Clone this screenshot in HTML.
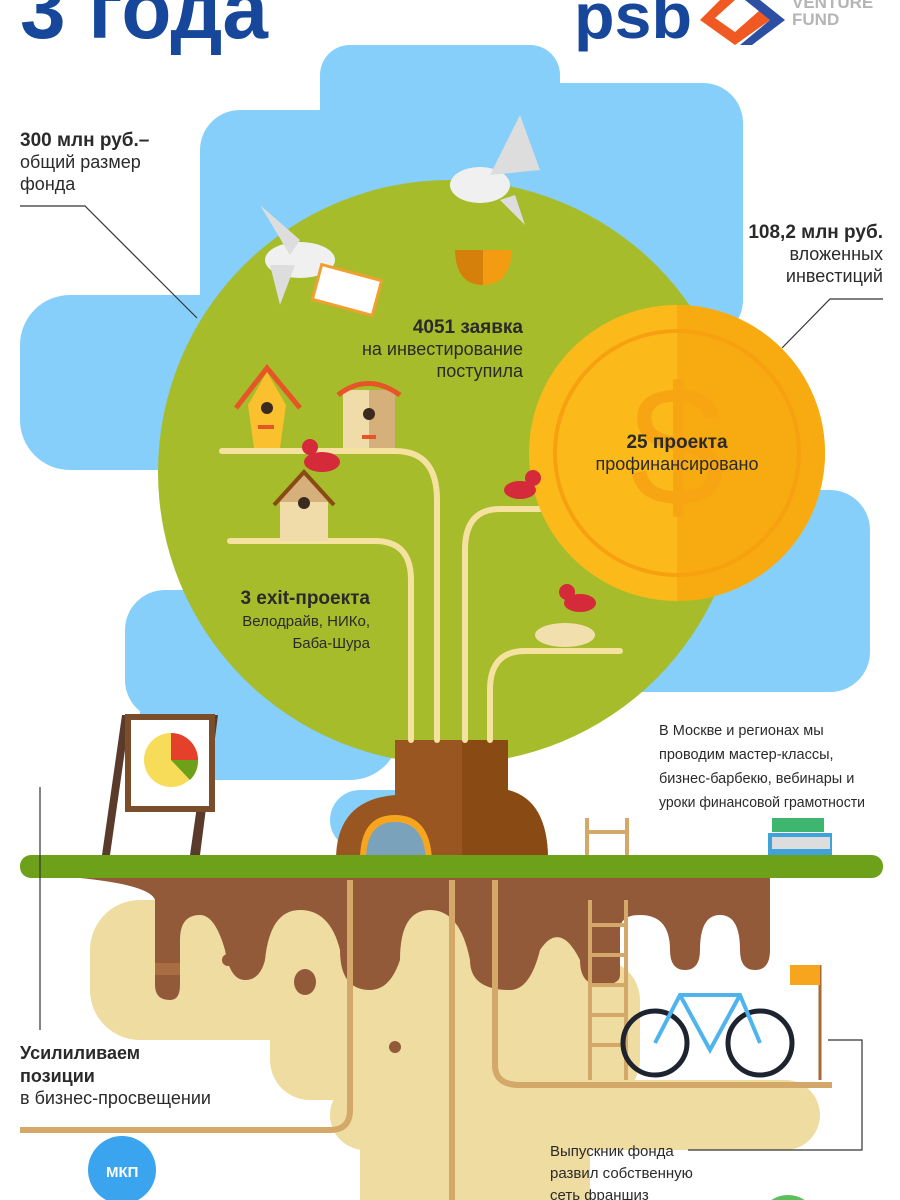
<!DOCTYPE html>
<html><head><meta charset="utf-8"><style>
html,body{margin:0;padding:0;background:#fff;}
svg{display:block}
text{font-family:"Liberation Sans","DejaVu Sans",sans-serif;fill:#2a2a2a}
.b{font-weight:bold}
</style></head><body>
<svg width="900" height="1200" viewBox="0 0 900 1200" xmlns="http://www.w3.org/2000/svg">
<!-- title -->
<text x="20" y="38" font-size="84" class="b" style="fill:#17479a" textLength="248" lengthAdjust="spacingAndGlyphs">3 года</text>
<!-- logo -->
<text x="574" y="38" font-size="64" class="b" style="fill:#17479a" textLength="118" lengthAdjust="spacingAndGlyphs">psb</text>
<path d="M720 0 L700 20 L735 45 L770 20 L760 10 L735 32 L715 18 L735 0Z" fill="#f05a22"/>
<path d="M745 0 L770 20 L740 45 L752 45 L785 20 L760 0Z" fill="#2c4fa3"/>
<text x="792" y="8" font-size="17" class="b" style="fill:#b5b5b5">VENTURE</text>
<text x="792" y="25" font-size="17" class="b" style="fill:#b5b5b5">FUND</text>
<!-- clouds -->
<g fill="#86cffa">
<rect x="320" y="45" width="240" height="300" rx="30"/>
<rect x="200" y="110" width="543" height="230" rx="40"/>
<rect x="380" y="83" width="363" height="200" rx="40"/>
<rect x="20" y="295" width="320" height="175" rx="50"/>
<rect x="600" y="490" width="270" height="202" rx="40"/>
<rect x="125" y="590" width="200" height="130" rx="40"/>
<rect x="140" y="640" width="260" height="140" rx="50"/>
<rect x="330" y="790" width="120" height="60" rx="30"/>
</g>
<!-- tree -->
<circle cx="450" cy="472" r="292" fill="#a7bc2a"/>
<!-- trunk -->
<path d="M395 740 L508 740 L508 790 Q548 800 548 860 L336 860 Q336 800 395 795Z" fill="#9a5620"/>
<path d="M462 740 L508 740 L508 790 Q548 800 548 860 L462 860Z" fill="#8a4a14"/>
<path d="M360 860 Q360 815 395 815 Q430 815 432 860Z" fill="#f7a51f"/>
<path d="M366 860 Q366 822 395 822 Q424 822 426 860Z" fill="#7ba2bb"/>
<!-- branches -->
<g fill="none" stroke="#f5e1a0" stroke-width="6" stroke-linecap="round">
<path d="M222 451 L395 451 Q437 451 437 500 L437 740"/>
<path d="M230 541 L375 541 Q411 541 411 580 L411 740"/>
<path d="M540 509 L500 509 Q465 509 465 550 L465 740"/>
<path d="M620 651 L525 651 Q490 651 490 690 L490 740"/>
</g>
<!-- coin -->
<circle cx="677" cy="453" r="148" fill="#fbba1a"/>
<path d="M677 305 A148 148 0 0 1 677 601Z" fill="#f7ab10"/>
<circle cx="677" cy="453" r="122" fill="none" stroke="#f7a010" stroke-width="4"/>
<text x="630" y="505" font-size="170" style="fill:#f7a512">$</text>
<!-- birdhouses -->
<path d="M248 405 L267 372 L286 405 L280 448 L254 448Z" fill="#fbc02d"/>
<path d="M236 408 L267 368 L300 408" fill="none" stroke="#e65527" stroke-width="5"/>
<circle cx="267" cy="408" r="6" fill="#3b2a20"/><rect x="258" y="425" width="16" height="4" fill="#e65527"/>
<rect x="343" y="390" width="52" height="58" fill="#f0dca8"/><rect x="369" y="390" width="26" height="58" fill="#d6b07a"/>
<path d="M338 395 Q368 372 400 395" fill="none" stroke="#e65527" stroke-width="5"/>
<circle cx="369" cy="414" r="6" fill="#3b2a20"/><rect x="362" y="435" width="14" height="4" fill="#e65527"/>
<rect x="280" y="500" width="48" height="41" fill="#f0dca8"/><path d="M278 502 L304 474 L330 502Z" fill="#d6b07a"/>
<path d="M274 505 L304 472 L334 505" fill="none" stroke="#8a4a14" stroke-width="4"/>
<circle cx="304" cy="503" r="6" fill="#3b2a20"/>
<!-- birds -->
<g fill="#d42a3a">
<ellipse cx="322" cy="462" rx="18" ry="10"/><circle cx="310" cy="447" r="8"/>
<ellipse cx="520" cy="490" rx="16" ry="9"/><circle cx="533" cy="478" r="8"/>
<ellipse cx="580" cy="603" rx="16" ry="9"/><circle cx="567" cy="592" r="8"/>
</g>
<ellipse cx="565" cy="635" rx="30" ry="12" fill="#f2dfae"/>
<!-- doves -->
<g fill="#f0f0f0">
<ellipse cx="300" cy="260" rx="35" ry="18"/><path d="M260 205 L300 240 L290 255Z" fill="#ddd"/><path d="M270 265 L280 305 L295 265Z" fill="#ddd"/>
<ellipse cx="480" cy="185" rx="30" ry="18"/><path d="M520 115 L540 170 L490 175Z" fill="#ddd"/><path d="M500 200 L525 225 L515 195Z" fill="#ddd"/>
</g>
<rect x="316" y="272" width="62" height="36" fill="#fff" stroke="#f0a030" stroke-width="3" transform="rotate(15 347 290)"/>
<path d="M455 250 L512 250 Q510 285 483 285 Q456 285 455 250Z" fill="#f39c12"/>
<path d="M455 250 L483 250 L483 285 Q456 285 455 250Z" fill="#d4800a"/>
<!-- ground -->
<rect x="20" y="855" width="863" height="23" rx="11" fill="#6ea11a"/>
<!-- beige -->
<g fill="#efdca0">
<rect x="90" y="900" width="510" height="140" rx="50"/>
<rect x="270" y="960" width="370" height="140" rx="40"/>
<rect x="330" y="1080" width="490" height="70" rx="35"/>
<rect x="360" y="1130" width="230" height="70"/>
<rect x="560" y="980" width="60" height="100"/>
</g>
<!-- roots brown -->
<path d="M80 878 L770 878 L770 950 Q770 970 755 970 Q740 970 740 950 Q740 915 720 915 Q700 915 700 950 Q700 970 685 970 Q670 970 670 950 Q670 915 640 915 Q620 915 620 930 L620 975 Q620 985 600 985 Q580 985 580 960 Q560 920 540 950 Q530 990 510 990 Q470 990 470 960 Q460 910 430 910 Q400 910 400 960 Q390 990 370 990 Q340 990 340 950 Q330 910 300 910 Q270 910 265 960 Q260 980 245 980 Q230 980 225 950 Q215 915 200 915 Q180 915 180 940 L180 985 Q180 1000 170 1000 Q155 1000 155 985 L155 900 Q150 885 80 878Z" fill="#935a3a"/>
<rect x="155" y="963" width="25" height="12" fill="#a96d44"/>
<circle cx="228" cy="960" r="6" fill="#935a3a"/><ellipse cx="305" cy="982" rx="11" ry="13" fill="#935a3a"/><circle cx="395" cy="1047" r="6" fill="#935a3a"/>
<g fill="none" stroke="#d4a868" stroke-width="6">
<path d="M350 880 L350 1110 Q350 1130 330 1130 L20 1130"/>
<path d="M452 880 L452 1200"/>
<path d="M495 880 L495 1065 Q495 1085 520 1085 L832 1085"/>
</g>
<!-- ladder -->
<g stroke="#d4a868" stroke-width="4" fill="none">
<path d="M587 818 L587 855 M627 818 L627 855 M587 832 L627 832"/>
<path d="M590 900 L590 1080 M626 900 L626 1080 M590 925 L626 925 M590 955 L626 955 M590 985 L626 985 M590 1015 L626 1015 M590 1045 L626 1045"/>
</g>
<!-- bike -->
<g fill="none" stroke="#1d2430" stroke-width="5"><circle cx="655" cy="1043" r="32"/><circle cx="760" cy="1043" r="32"/></g>
<path d="M655 1043 L680 995 L740 995 L760 1043 M680 995 L710 1050 L740 995" fill="none" stroke="#4fb4ee" stroke-width="4"/>
<path d="M820 965 L820 1080" stroke="#a86a30" stroke-width="3"/><rect x="790" y="965" width="30" height="20" fill="#f7a51f"/>
<!-- easel -->
<path d="M102 855 L122 715 L130 715 L110 855Z M190 855 L210 715 L218 715 L200 855Z" fill="#5a3a2a"/>
<rect x="128" y="717" width="84" height="92" fill="#fff" stroke="#7a4e2a" stroke-width="6"/>
<circle cx="171" cy="760" r="27" fill="#f7dc5a"/><path d="M171 760 L171 733 A27 27 0 0 1 198 760Z" fill="#e5412a"/><path d="M171 760 L198 760 A27 27 0 0 1 190 780Z" fill="#6ea11a"/>
<!-- books -->
<rect x="772" y="818" width="52" height="14" fill="#3eb66f"/><rect x="768" y="833" width="64" height="22" fill="#3fa2d8"/><rect x="772" y="837" width="58" height="12" fill="#ddd"/>
<!-- MKP -->
<circle cx="122" cy="1170" r="34" fill="#3aa5ee"/>
<text x="106" y="1177" font-size="15" class="b" style="fill:#fff">МКП</text>
<circle cx="788" cy="1225" r="30" fill="#5cc05a"/>
<!-- leader lines -->
<g fill="none" stroke="#333" stroke-width="1.2">
<path d="M20 206 L85 206 L197 318"/>
<path d="M883 299 L830 299 L782 348"/>
<path d="M40 787 L40 1030"/>
<path d="M828 1040 L862 1040 L862 1150 L688 1150"/>
</g>
<!-- texts -->
<text x="20" y="146" font-size="19" class="b">300 млн руб.–</text>
<text x="20" y="168" font-size="18">общий размер</text>
<text x="20" y="190" font-size="18">фонда</text>
<text x="883" y="238" font-size="19" class="b" text-anchor="end">108,2 млн руб.</text>
<text x="883" y="260" font-size="18" text-anchor="end">вложенных</text>
<text x="883" y="282" font-size="18" text-anchor="end">инвестиций</text>
<text x="523" y="333" font-size="19" class="b" text-anchor="end">4051 заявка</text>
<text x="523" y="355" font-size="18" text-anchor="end">на инвестирование</text>
<text x="523" y="377" font-size="18" text-anchor="end">поступила</text>
<text x="677" y="448" font-size="19" class="b" text-anchor="middle">25 проекта</text>
<text x="677" y="470" font-size="18" text-anchor="middle">профинансировано</text>
<text x="370" y="604" font-size="19" class="b" text-anchor="end">3 exit-проекта</text>
<text x="370" y="626" font-size="15" text-anchor="end">Велодрайв, НИКо,</text>
<text x="370" y="648" font-size="15" text-anchor="end">Баба-Шура</text>
<text x="659" y="735" font-size="14.5">В Москве и регионах мы</text>
<text x="659" y="759" font-size="14.5">проводим мастер-классы,</text>
<text x="659" y="783" font-size="14.5">бизнес-барбекю, вебинары и</text>
<text x="659" y="807" font-size="14.5" textLength="206" lengthAdjust="spacingAndGlyphs">уроки финансовой грамотности</text>
<text x="20" y="1059" font-size="18" class="b">Усилиливаем</text>
<text x="20" y="1082" font-size="18" class="b">позиции</text>
<text x="20" y="1104" font-size="18">в бизнес-просвещении</text>
<text x="550" y="1156" font-size="15">Выпускник  фонда</text>
<text x="550" y="1178" font-size="15">развил собственную</text>
<text x="550" y="1200" font-size="15">сеть франшиз</text>
</svg>
</body></html>
